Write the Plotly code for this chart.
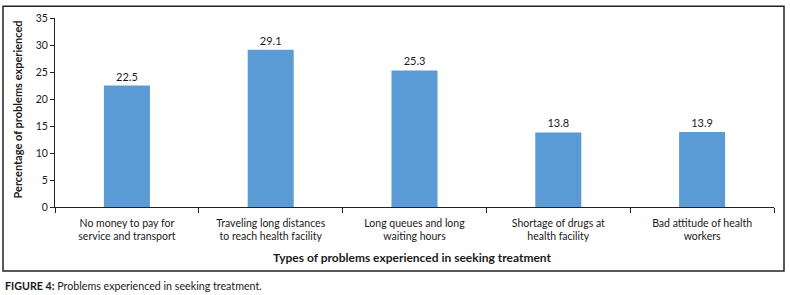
import plotly.graph_objects as go

categories = [
    "No money to pay for<br>service and transport",
    "Traveling long distances<br>to reach health facility",
    "Long queues and long<br>waiting hours",
    "Shortage of drugs at<br>health facility",
    "Bad attitude of health<br>workers",
]
values = [22.5, 29.1, 25.3, 13.8, 13.9]
y_ticks = [0, 5, 10, 15, 20, 25, 30, 35]

FONT = "Lato, Liberation Sans, sans-serif"
TXT = "#1a1a1a"

W, H = 790, 295
L, R, T, B = 55, 774, 15, 207

def px_x(p):
    return (p - L) / (R - L)

def px_y(p):
    return (B - p) / (B - T)

fig = go.Figure(go.Bar(
    x=categories, y=values,
    marker=dict(color="#5B9BD5", line=dict(width=0)),
    text=[f"{v:.1f}" for v in values],
    textposition="outside",
    textfont=dict(family=FONT, size=11, color=TXT),
    cliponaxis=False,
    width=0.32,
))

fig.update_layout(
    width=W, height=H,
    margin=dict(l=L, r=W - R, t=T, b=H - B),
    paper_bgcolor="white", plot_bgcolor="white",
    font=dict(family=FONT, size=10.5, color=TXT),
    showlegend=False,
    xaxis=dict(
        type="category", tickson="boundaries", ticks="outside", ticklen=5,
        tickcolor="#222", showline=True, linecolor="#222", linewidth=1,
        showgrid=False, ticklabelstandoff=6,
        tickfont=dict(family=FONT, size=10.5, color=TXT),
    ),
    yaxis=dict(
        range=[0, 35], tickvals=y_ticks, ticks="outside", ticklen=4,
        tickcolor="#222", showline=True, linecolor="#222", linewidth=1,
        showgrid=False, zeroline=False, ticklabeloverflow="allow",
        tickfont=dict(family=FONT, size=10.5, color=TXT),
    ),
    shapes=[dict(
        type="rect", xref="paper", yref="paper",
        x0=px_x(3), x1=px_x(784), y0=px_y(272), y1=px_y(3),
        line=dict(color="#222", width=1.5), fillcolor="rgba(0,0,0,0)",
        layer="below",
    )],
    annotations=[
        dict(text="<b>Types of problems experienced in seeking treatment</b>",
             xref="paper", yref="paper", x=px_x(412), y=px_y(258),
             showarrow=False, font=dict(family=FONT, size=12, color=TXT),
             xanchor="center", yanchor="middle"),
        dict(text="<b>Percentage of problems experienced</b>",
             xref="paper", yref="paper", x=px_x(18), y=px_y(108),
             showarrow=False, textangle=-90,
             font=dict(family=FONT, size=11, color=TXT),
             xanchor="center", yanchor="middle"),
        dict(text="<b>FIGURE 4:</b> Problems experienced in seeking treatment.",
             xref="paper", yref="paper", x=px_x(3), y=px_y(287),
             showarrow=False, font=dict(family=FONT, size=10.7, color=TXT),
             xanchor="left", yanchor="middle"),
    ],
)

fig.write_html("out.html", config={"displayModeBar": False},
               post_script="document.body.style.margin='0';")
